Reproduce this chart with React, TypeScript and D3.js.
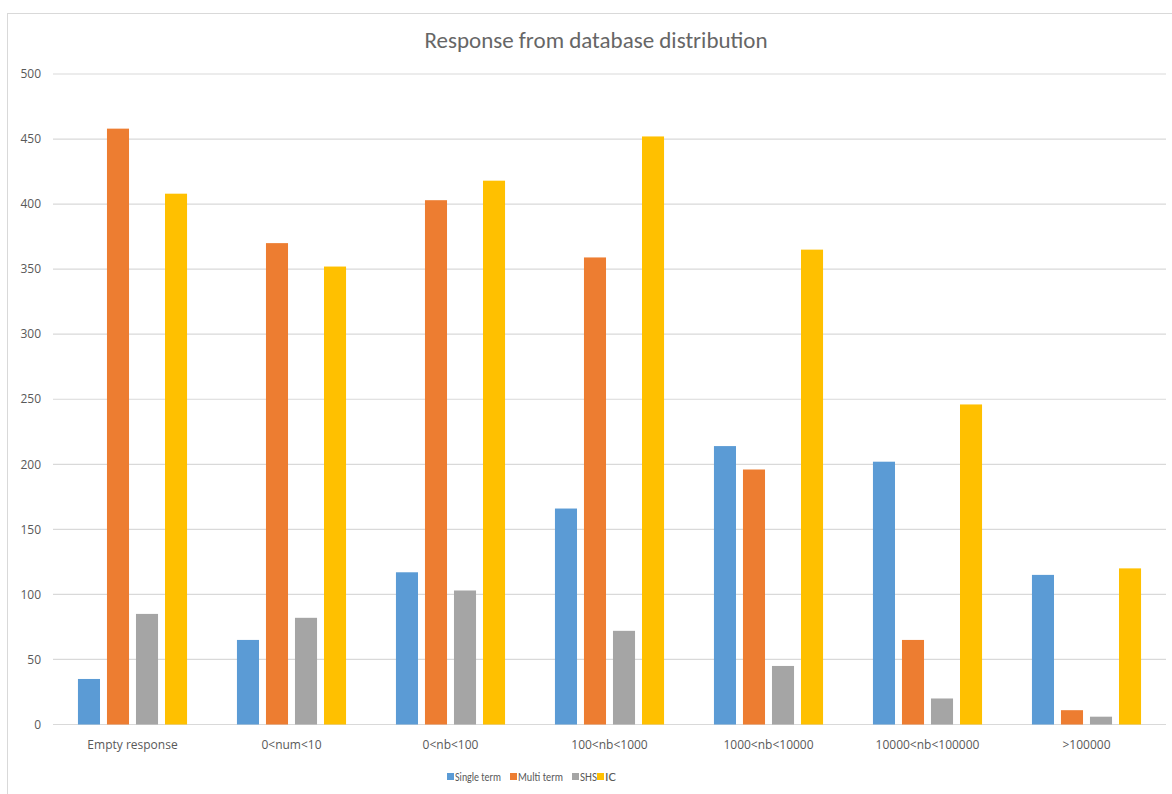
import React from "react";
import * as d3 from "d3";

const categories = [
  "Empty response",
  "0<num<10",
  "0<nb<100",
  "100<nb<1000",
  "1000<nb<10000",
  "10000<nb<100000",
  ">100000",
];
const seriesNames = ["Single term", "Multi term", "SHS", "IC"];
const singleTerm = [35, 65, 117, 166, 214, 202, 115];
const multiTerm = [458, 370, 403, 359, 196, 65, 11];
const shs = [85, 82, 103, 72, 45, 20, 6];
const ic = [408, 352, 418, 452, 365, 246, 120];
const yTicks = [0, 50, 100, 150, 200, 250, 300, 350, 400, 450, 500];
const colors = ["#5B9BD5", "#ED7D31", "#A5A5A5", "#FFC000"];

const W = 1172;
const H = 794;
const titleFont = "Carlito, Calibri, sans-serif";
const labelFont = "'Open Sans', 'Segoe UI', sans-serif";
const legendFont = "Carlito, Calibri, sans-serif";

export default function App() {
  const values = [singleTerm, multiTerm, shs, ic];

  const x0 = d3.scaleBand<string>().domain(categories).range([53, 1166]);
  const x1 = d3
    .scaleBand<string>()
    .domain(seriesNames)
    .range([0, x0.bandwidth()])
    .paddingInner(0.24)
    .paddingOuter(0.86);
  const y = d3.scaleLinear().domain([0, 500]).range([724.5, 74]);

  // legend layout (square x, text x, text width)
  const legendItems = [
    { x: 447, tx: 455, w: 46 },
    { x: 510, tx: 518, w: 45 },
    { x: 572, tx: 580, w: 17 },
    { x: 597, tx: 605, w: 11 },
  ];

  return (
    <div style={{ position: "absolute", left: 0, top: 0 }}>
      <svg width={W} height={H} style={{ display: "block", background: "#fff" }}>
        <rect x={7.5} y={13.5} width={W + 10} height={H + 10} fill="#fff" stroke="#D9D9D9" />
        <text
          x={596}
          y={48}
          textAnchor="middle"
          fontFamily={titleFont}
          fontSize={23}
          fill="#666"
        >
          Response from database distribution
        </text>

        {yTicks.map((t) => (
          <g key={t}>
            <line x1={53} x2={1166} y1={y(t)} y2={y(t)} stroke="#D9D9D9" strokeWidth={1.2} />
            <text
              x={41}
              y={y(t)}
              dy="0.35em"
              textAnchor="end"
              fontFamily={labelFont}
              fontSize={12}
              fill="#595959"
            >
              {t}
            </text>
          </g>
        ))}

        {categories.map((c, i) => (
          <g key={c} transform={`translate(${x0(c)},0)`}>
            {seriesNames.map((s, j) => (
              <rect
                key={s}
                x={x1(s)}
                y={y(values[j][i])}
                width={x1.bandwidth()}
                height={y(0) - y(values[j][i])}
                fill={colors[j]}
              />
            ))}
            <text
              x={x0.bandwidth() / 2}
              y={749}
              textAnchor="middle"
              fontFamily={labelFont}
              fontSize={12}
              fill="#595959"
            >
              {c}
            </text>
          </g>
        ))}

        {seriesNames.map((s, j) => (
          <g key={s}>
            <rect x={legendItems[j].x} y={773} width={7} height={7} fill={colors[j]} />
            <text
              x={legendItems[j].tx}
              y={781}
              fontFamily={legendFont}
              fontSize={13}
              textLength={legendItems[j].w}
              lengthAdjust="spacingAndGlyphs"
              fill="#595959"
            >
              {s}
            </text>
          </g>
        ))}
      </svg>
    </div>
  );
}
